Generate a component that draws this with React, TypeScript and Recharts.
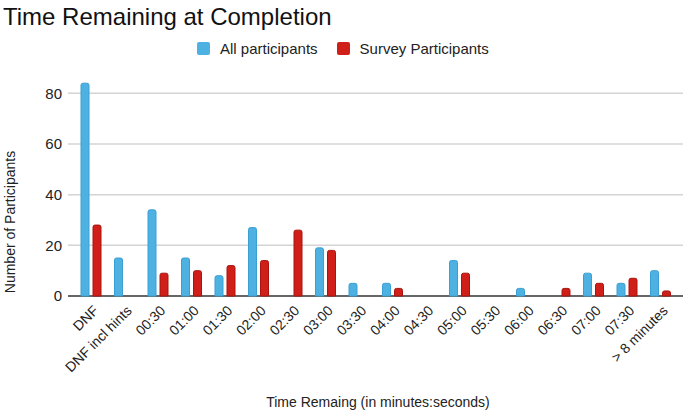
import { BarChart, Bar, XAxis, YAxis, CartesianGrid, Label } from 'recharts';

const categories = ['DNF', 'DNF incl hints', '00:30', '01:00', '01:30', '02:00', '02:30', '03:00', '03:30', '04:00', '04:30', '05:00', '05:30', '06:00', '06:30', '07:00', '07:30', '> 8 minutes'];
const allParticipants = [84, 15, 34, 15, 8, 27, 0, 19, 5, 5, 0, 14, 0, 3, 0, 9, 5, 10];
const surveyParticipants = [28, 0, 9, 10, 12, 14, 26, 18, 0, 3, 0, 9, 0, 0, 3, 5, 7, 2];
const yTicks = [0, 20, 40, 60, 80];

const BLUE = '#4db1e2';
const RED = '#cf1f18';
const FONT = '"Liberation Sans", Arial, sans-serif';

const data = categories.map((label, i) => ({
  label,
  all: allParticipants[i],
  survey: surveyParticipants[i],
}));

function XTick({ x, y, payload }: { x?: number; y?: number; payload?: { value: string } }) {
  return (
    <text
      transform={`translate(${(x ?? 0) + 5},${(y ?? 0) + 4}) rotate(-45)`}
      textAnchor="end"
      dy="0.35em"
      fontSize={14}
      fontFamily={FONT}
      fill="#222"
    >
      {payload?.value}
    </text>
  );
}

function LegendItem({ color, text }: { color: string; text: string }) {
  return (
    <div style={{ display: 'flex', alignItems: 'center', marginRight: 19 }}>
      <span style={{ width: 13, height: 13, background: color, borderRadius: 2, marginRight: 10, display: 'inline-block' }} />
      <span style={{ fontSize: 15, color: '#222' }}>{text}</span>
    </div>
  );
}

export default function App() {
  return (
    <div style={{ position: 'absolute', left: 0, top: 0, width: 685, height: 411, background: '#fff', fontFamily: FONT }}>
      <div style={{ position: 'absolute', left: 3, top: 3, fontSize: 24, color: '#111', zIndex: 2 }}>
        Time Remaining at Completion
      </div>
      <div style={{ position: 'absolute', left: 197, top: 40, display: 'flex', zIndex: 2 }}>
        <LegendItem color={BLUE} text="All participants" />
        <LegendItem color={RED} text="Survey Participants" />
      </div>
      <BarChart
        width={685}
        height={411}
        data={data}
        margin={{ top: 68, right: 8, bottom: 0, left: 0 }}
        barSize={8}
        barGap={4}
      >
        <CartesianGrid vertical={false} x={68} width={615} stroke="#d4d4d4" strokeWidth={1.5} horizontalValues={[20, 40, 60, 80]} />
        <CartesianGrid vertical={false} x={68} width={615} stroke="#333" strokeWidth={1.5} horizontalValues={[0]} />
        <XAxis
          dataKey="label"
          interval={0}
          axisLine={false}
          tickLine={false}
          height={115}
          tick={<XTick />}
        >
          <Label
            content={() => (
              <text x={378} y={407} textAnchor="middle" fontSize={14} fontFamily={FONT} fill="#222">
                Time Remaing (in minutes:seconds)
              </text>
            )}
          />
        </XAxis>
        <YAxis
          width={74}
          domain={[0, 90]}
          ticks={yTicks}
          axisLine={false}
          tickLine={false}
          tickSize={0}
          tickMargin={12}
          tick={{ fontSize: 15, fill: '#222', fontFamily: FONT }}
        >
          <Label
            content={() => (
              <text transform="translate(15,222) rotate(-90)" textAnchor="middle" fontSize={14} fontFamily={FONT} fill="#222">
                Number of Participants
              </text>
            )}
          />
        </YAxis>
        <Bar dataKey="all" name="All participants" fill={BLUE} stroke="#3b9fd3" strokeWidth={1} radius={[2, 2, 0, 0]} isAnimationActive={false} />
        <Bar dataKey="survey" name="Survey Participants" fill={RED} stroke="#a8140f" strokeWidth={1} radius={[2, 2, 0, 0]} isAnimationActive={false} />
      </BarChart>
    </div>
  );
}
